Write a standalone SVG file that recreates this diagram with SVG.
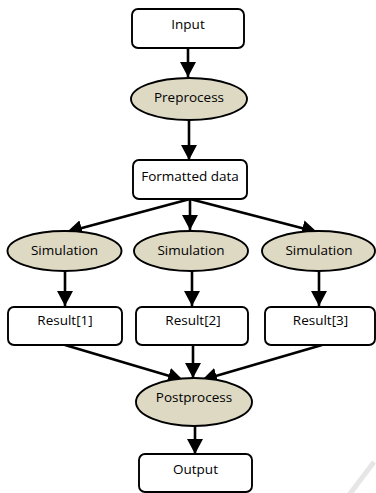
<svg xmlns="http://www.w3.org/2000/svg" width="376" height="493" viewBox="0 0 376 493">
<defs>
<marker id="ah" markerWidth="15" markerHeight="16" viewBox="0 0 15 16" refX="15" refY="8" orient="auto" markerUnits="userSpaceOnUse">
<path d="M0,0 L15,8 L0,16 Z" fill="#000"/>
</marker>
</defs>
<style>
.box{fill:#fff;stroke:#000;stroke-width:1.9}
.ell{fill:#ddd9c3;stroke:#000;stroke-width:1.9}
.lbl{font-family:"Open Sans","Noto Sans",sans-serif;font-size:13.5px;fill:#000;text-anchor:middle}
.edge{stroke:#000;stroke-width:2.6;fill:none;marker-end:url(#ah)}
</style>
<rect width="376" height="493" fill="#fff"/>
<line x1="374" y1="462" x2="349" y2="495" stroke="#e6e6e6" stroke-width="5"/>
<g id="connectors">
<line class="edge" x1="188" y1="48" x2="188" y2="77"/>
<line class="edge" x1="189" y1="120" x2="189" y2="160"/>
<line class="edge" x1="190" y1="199" x2="67" y2="232"/>
<line class="edge" x1="190" y1="199" x2="190" y2="230"/>
<line class="edge" x1="190" y1="199" x2="317" y2="232"/>
<line class="edge" x1="65" y1="271" x2="65" y2="306"/>
<line class="edge" x1="192" y1="271" x2="192" y2="306"/>
<line class="edge" x1="319" y1="271" x2="319" y2="306"/>
<line class="edge" x1="65" y1="345" x2="183" y2="380"/>
<line class="edge" x1="193" y1="345" x2="193" y2="378"/>
<line class="edge" x1="322" y1="345" x2="202" y2="380"/>
<line class="edge" x1="195" y1="426" x2="195" y2="454"/>
</g>
<g id="input"><rect class="box" x="132" y="9" width="112" height="39" rx="6"/><text class="lbl" x="188" y="28.5">Input</text></g>
<g id="preprocess"><ellipse class="ell" cx="189" cy="99" rx="58" ry="21"/><text class="lbl" x="189" y="102">Preprocess</text></g>
<g id="formatted"><rect class="box" x="133" y="160" width="114" height="39" rx="6"/><text class="lbl" x="190" y="181">Formatted data</text></g>
<g id="sim1"><ellipse class="ell" cx="64.5" cy="251" rx="57" ry="20"/><text class="lbl" x="64.5" y="255">Simulation</text></g>
<g id="sim2"><ellipse class="ell" cx="191" cy="251" rx="57" ry="20"/><text class="lbl" x="191" y="255">Simulation</text></g>
<g id="sim3"><ellipse class="ell" cx="318.5" cy="251" rx="56.5" ry="20"/><text class="lbl" x="319" y="255">Simulation</text></g>
<g id="result1"><rect class="box" x="8" y="307" width="114" height="38" rx="6"/><text class="lbl" x="65" y="325">Result[1]</text></g>
<g id="result2"><rect class="box" x="136" y="307" width="112" height="38" rx="6"/><text class="lbl" x="193" y="325">Result[2]</text></g>
<g id="result3"><rect class="box" x="265" y="307" width="110" height="38" rx="6"/><text class="lbl" x="320.5" y="325">Result[3]</text></g>
<g id="postprocess"><ellipse class="ell" cx="194" cy="402" rx="58" ry="24"/><text class="lbl" x="194" y="402">Postprocess</text></g>
<g id="output"><rect class="box" x="139" y="454" width="113" height="38" rx="6"/><text class="lbl" x="195.5" y="474">Output</text></g>
</svg>
